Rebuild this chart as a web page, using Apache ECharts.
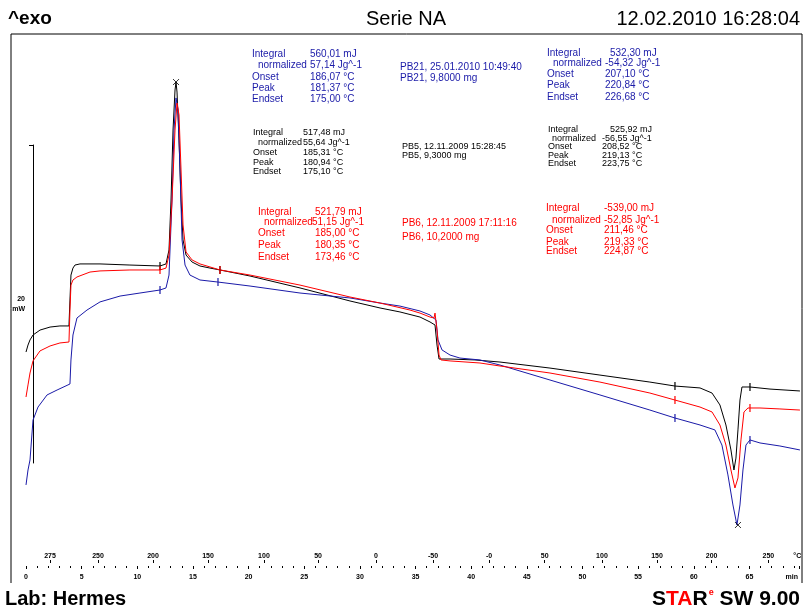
<!DOCTYPE html>
<html>
<head>
<meta charset="utf-8">
<script src="https://cdn.jsdelivr.net/npm/echarts@6/dist/echarts.min.js"></script>
<style>
  html, body { margin: 0; padding: 0; background: #fff; }
  #chart { width: 805px; height: 610px; }
</style>
</head>
<body>
<div id="chart"></div>
<script>
// DSC heat-flow curves: time [min] against heat flow [mW], exo up.
const pb5Time = [0, 0.18, 0.36, 0.63, 1.26, 2.16, 3.05, 3.86, 3.95, 4.04, 4.22, 4.40, 4.85, 6.65, 9.34, 12.04, 12.58, 12.85, 13.03, 13.21, 13.39, 13.48, 13.57, 13.75, 13.93, 14.11, 14.38, 14.92, 15.63, 16.53, 17.43, 20.13, 24.62, 29.11, 31.81, 33.60, 35.40, 36.30, 36.75, 36.93, 37.11, 38.10, 40.34, 42.59, 47.08, 51.57, 56.06, 58.31, 60.56, 61.64, 62.35, 62.89, 63.34, 63.61, 63.79, 63.97, 64.15, 64.33, 65.05, 66.85, 69.54];
const pb5Flow = [6.98, 7.42, 7.74, 8.05, 8.36, 8.55, 8.62, 8.62, 10.25, 11.82, 12.26, 12.45, 12.52, 12.52, 12.45, 12.39, 12.52, 13.40, 16.54, 20.94, 23.46, 23.96, 23.33, 20.31, 16.54, 14.03, 13.08, 12.64, 12.39, 12.26, 12.14, 11.76, 11.01, 10.19, 9.75, 9.50, 9.18, 8.87, 8.68, 7.42, 6.54, 6.54, 6.48, 6.35, 5.97, 5.53, 5.09, 4.84, 4.72, 4.40, 3.65, 2.39, 0.82, -0.44, 0.31, 2.08, 3.96, 4.78, 4.78, 4.65, 4.53];

const pb6Time = [0, 0.18, 0.36, 0.63, 1.26, 2.16, 3.05, 3.86, 3.95, 4.04, 4.22, 4.58, 5.75, 6.65, 9.34, 12.04, 12.58, 12.85, 13.12, 13.39, 13.57, 13.75, 13.93, 14.11, 14.38, 14.92, 15.63, 16.53, 17.43, 20.13, 24.62, 29.11, 31.81, 34.50, 35.40, 36.30, 36.66, 36.75, 36.93, 37.11, 37.29, 38.10, 40.79, 42.59, 47.08, 51.57, 56.06, 58.31, 60.56, 61.64, 62.35, 62.89, 63.34, 63.70, 63.97, 64.24, 64.51, 64.87, 65.95, 67.74, 69.54];
const pb6Flow = [4.15, 4.91, 5.66, 6.42, 7.05, 7.36, 7.55, 7.61, 9.62, 11.19, 11.51, 11.70, 12.01, 12.08, 12.14, 12.14, 12.26, 13.08, 16.54, 20.94, 22.64, 21.89, 18.43, 14.97, 13.27, 12.77, 12.52, 12.33, 12.14, 11.82, 11.19, 10.44, 10.06, 9.62, 9.43, 9.18, 9.12, 9.43, 8.36, 6.79, 6.48, 6.42, 6.29, 6.10, 5.66, 5.09, 4.40, 3.96, 3.52, 3.21, 2.39, 1.13, -0.44, -1.57, -0.94, 1.45, 3.21, 3.46, 3.46, 3.40, 3.33];

const pb21Time = [0, 0.18, 0.36, 0.63, 1.08, 1.89, 2.79, 3.77, 3.95, 4.04, 4.22, 4.58, 5.48, 6.65, 8.45, 10.24, 12.04, 12.58, 12.85, 13.12, 13.30, 13.48, 13.66, 13.84, 14.02, 14.29, 14.73, 15.63, 17.25, 20.13, 24.62, 29.11, 31.81, 33.60, 35.40, 36.30, 36.84, 37.02, 37.38, 38.10, 38.99, 40.79, 42.59, 47.08, 51.57, 56.06, 58.31, 60.56, 61.90, 62.53, 63.07, 63.52, 63.88, 64.15, 64.42, 64.69, 65.05, 65.95, 67.74, 69.54];
const pb21Flow = [-1.38, -0.44, 0.19, 2.70, 3.52, 4.28, 4.59, 4.91, 4.97, 6.48, 8.05, 9.12, 9.62, 10.13, 10.50, 10.69, 10.88, 11.01, 11.82, 16.54, 20.94, 22.96, 22.20, 18.43, 14.03, 12.45, 11.82, 11.51, 11.38, 11.13, 10.69, 10.38, 10.06, 9.87, 9.56, 9.31, 8.99, 7.74, 7.11, 6.79, 6.60, 6.48, 6.16, 5.22, 4.28, 3.33, 2.83, 2.39, 2.08, 1.13, -0.75, -2.64, -3.90, -2.64, -0.44, 1.13, 1.45, 1.26, 1.07, 0.82];

// Integration limits [time, flow] and peak markers
const pb5Limits = [[12.04, 12.39], [17.43, 12.14], [58.31, 4.84], [65.05, 4.78]];
const pb6Limits = [[12.04, 12.14], [17.43, 12.14], [58.31, 3.96], [65.05, 3.46]];
const pb21Limits = [[12.04, 10.88], [17.25, 11.38], [58.31, 2.83], [65.05, 1.45]];
const peakMarks = [[13.48, 23.96], [63.97, -3.90]];

// Ruler: time ticks below, programme temperature labels above
const timeLabelPos = [0, 5, 10, 15, 20, 25, 30, 35, 40, 45, 50, 55, 60, 65, 68.8];
const timeLabels = ['0', '5', '10', '15', '20', '25', '30', '35', '40', '45', '50', '55', '60', '65', 'min'];
const tempLabelPos = [2.16, 6.47, 11.41, 16.35, 21.38, 26.24, 31.45, 36.57, 41.6, 46.6, 51.75, 56.7, 61.6, 66.7, 69.3];
const tempLabels = ['275', '250', '200', '150', '100', '50', '0', '-50', '-0', '50', '100', '150', '200', '250', '°C'];

// Evaluation results
const resultNames = ['Integral', 'normalized', 'Onset', 'Peak', 'Endset'];
const pb21Cryst = ['560,01 mJ', '57,14 Jg^-1', '186,07 °C', '181,37 °C', '175,00 °C'];
const pb21Melt = ['532,30 mJ', '-54,32 Jg^-1', '207,10 °C', '220,84 °C', '226,68 °C'];
const pb5Cryst = ['517,48 mJ', '55,64 Jg^-1', '185,31 °C', '180,94 °C', '175,10 °C'];
const pb5Melt = ['525,92 mJ', '-56,55 Jg^-1', '208,52 °C', '219,13 °C', '223,75 °C'];
const pb6Cryst = ['521,79 mJ', '51,15 Jg^-1', '185,00 °C', '180,35 °C', '173,46 °C'];
const pb6Melt = ['-539,00 mJ', '-52,85 Jg^-1', '211,46 °C', '219,33 °C', '224,87 °C'];
const pb21Info = ['PB21, 25.01.2010 10:49:40', 'PB21, 9,8000 mg'];
const pb5Info = ['PB5, 12.11.2009 15:28:45', 'PB5, 9,3000 mg'];
const pb6Info = ['PB6, 12.11.2009 17:11:16', 'PB6, 10,2000 mg'];

const BLACK = '#000000';
const RED = '#ff0000';
const BLUE = '#1a1aa8';
const FONT = '"Liberation Sans", Arial, sans-serif';

function pairs(t, f) { return t.map((v, i) => [v, f[i]]); }

function resultBlock(values, color, size, nameX, indent, valueX, rows) {
  const els = [];
  const font = size + 'px ' + FONT;
  resultNames.forEach((n, i) => {
    els.push({ type: 'text', x: nameX + (i === 1 ? indent : 0), y: rows[i], z: 10,
      style: { text: n, fill: color, font: font, verticalAlign: 'middle' } });
    els.push({ type: 'text', x: valueX[i], y: rows[i], z: 10,
      style: { text: values[i], fill: color, font: font, verticalAlign: 'middle' } });
  });
  return els;
}
function infoBlock(lines, color, size, x, rows) {
  return lines.map((s, i) => ({ type: 'text', x: x, y: rows[i], z: 10,
    style: { text: s, fill: color, font: size + 'px ' + FONT, verticalAlign: 'middle' } }));
}

const graphics = [
  { type: 'polyline', shape: { points: [[11, 583], [11, 34], [802, 34], [802, 583]] },
    style: { stroke: '#000', lineWidth: 1, fill: null } },
  { type: 'text', x: 8, y: 19, style: { text: '^exo', fill: '#000', font: 'bold 19px ' + FONT, verticalAlign: 'middle' } },
  { type: 'text', x: 406, y: 19, style: { text: 'Serie NA', fill: '#000', font: '20px ' + FONT, align: 'center', verticalAlign: 'middle' } },
  { type: 'text', x: 800, y: 19, style: { text: '12.02.2010 16:28:04', fill: '#000', font: '20px ' + FONT, align: 'right', verticalAlign: 'middle' } },
  { type: 'text', x: 5, y: 599, style: { text: 'Lab: Hermes', fill: '#000', font: 'bold 20px ' + FONT, verticalAlign: 'middle' } },
  { type: 'text', x: 800, y: 599, style: {
      text: '{k|S}{r|TA}{k|R}{s|e}{k| SW 9.00}', align: 'right', verticalAlign: 'middle',
      rich: {
        k: { fill: '#000', font: 'bold 21px ' + FONT },
        r: { fill: '#ff0000', font: 'bold 21px ' + FONT },
        s: { fill: '#ff0000', font: 'bold 9px ' + FONT, verticalAlign: 'top', padding: [0, 0, 10, 1] }
      } } }
]
  .concat(resultBlock(pb21Cryst, BLUE, 10, 252, 6, [310, 310, 310, 310, 310], [54, 65, 77, 88, 99]))
  .concat(infoBlock(pb21Info, BLUE, 10, 400, [67, 78]))
  .concat(resultBlock(pb21Melt, BLUE, 10, 547, 6, [610, 605, 605, 605, 605], [53, 63, 74, 85, 97]))
  .concat(resultBlock(pb5Cryst, BLACK, 9, 253, 5, [303, 303, 303, 303, 303], [133, 143, 153, 163, 172]))
  .concat(infoBlock(pb5Info, BLACK, 9, 402, [147, 156]))
  .concat(resultBlock(pb5Melt, BLACK, 9, 548, 4, [610, 602, 602, 602, 602], [130, 139, 147, 156, 164]))
  .concat(resultBlock(pb6Cryst, RED, 10, 258, 6, [315, 312, 315, 315, 315], [212, 222, 233, 245, 257]))
  .concat(infoBlock(pb6Info, RED, 10, 402, [223, 237]))
  .concat(resultBlock(pb6Melt, RED, 10, 546, 6, [604, 604, 604, 604, 604], [208, 220, 230, 242, 251]));

function limitSeries(name, data, color) {
  return { name: name, type: 'scatter', xAxisIndex: 0, yAxisIndex: 0, data: data,
    symbol: 'rect', symbolSize: [1.5, 8], itemStyle: { color: color }, silent: true, z: 4 };
}

const pxPerMW = 15.9;
const chart = echarts.init(document.getElementById('chart'), null, { renderer: 'canvas' });
chart.setOption({
  animation: false,
  backgroundColor: '#fff',
  grid: [
    { left: 26, right: 5.5, top: 463 - 27 * pxPerMW, height: 32 * pxPerMW },
    { left: 26, right: 5.5, top: 563, height: 3 },
    { left: 33, top: 145, width: 1, height: 20 * pxPerMW }
  ],
  xAxis: [
    { gridIndex: 0, type: 'value', min: 0, max: 69.5, show: false },
    { gridIndex: 1, type: 'value', min: 0, max: 69.5, position: 'bottom', interval: 5,
      axisLine: { show: false }, splitLine: { show: false },
      axisTick: { show: true, length: 3, lineStyle: { color: '#000' } },
      minorTick: { show: true, splitNumber: 5, length: 2, lineStyle: { color: '#000' } },
      axisLabel: { customValues: timeLabelPos, margin: 8, fontSize: 7, fontWeight: 'bold', color: '#000', fontFamily: FONT,
        formatter: v => timeLabels[timeLabelPos.indexOf(v)] } },
    { gridIndex: 1, type: 'value', min: 0, max: 69.5, position: 'top',
      axisLine: { show: false }, splitLine: { show: false },
      axisTick: { show: true, length: 3, customValues: tempLabelPos.slice(0, -1), lineStyle: { color: '#000' } },
      axisLabel: { customValues: tempLabelPos, margin: 3, fontSize: 7, fontWeight: 'bold', color: '#000', fontFamily: FONT,
        formatter: v => tempLabels[tempLabelPos.indexOf(v)] } },
    { gridIndex: 2, type: 'value', min: 0, max: 1, show: false }
  ],
  yAxis: [
    { gridIndex: 0, type: 'value', min: -5, max: 27, show: false },
    { gridIndex: 1, type: 'value', show: false },
    { gridIndex: 2, type: 'value', min: 0, max: 20, position: 'left',
      axisLine: { show: true, lineStyle: { color: '#000', width: 1 } },
      axisTick: { show: true, length: 4, customValues: [20], lineStyle: { color: '#000' } },
      axisLabel: { show: false }, splitLine: { show: false },
      name: '20\nmW', nameLocation: 'middle', nameRotate: 0, nameGap: 8,
      nameTextStyle: { fontSize: 7, fontWeight: 'bold', color: '#000', fontFamily: FONT, align: 'right', lineHeight: 10 } }
  ],
  series: [
    { name: 'PB5', type: 'line', xAxisIndex: 0, yAxisIndex: 0, data: pairs(pb5Time, pb5Flow),
      showSymbol: false, lineStyle: { color: BLACK, width: 1 }, itemStyle: { color: BLACK } },
    { name: 'PB21', type: 'line', xAxisIndex: 0, yAxisIndex: 0, data: pairs(pb21Time, pb21Flow),
      showSymbol: false, lineStyle: { color: BLUE, width: 1 }, itemStyle: { color: BLUE } },
    { name: 'PB6', type: 'line', xAxisIndex: 0, yAxisIndex: 0, data: pairs(pb6Time, pb6Flow),
      showSymbol: false, lineStyle: { color: RED, width: 1 }, itemStyle: { color: RED } },
    limitSeries('PB5 limits', pb5Limits, BLACK),
    limitSeries('PB21 limits', pb21Limits, BLUE),
    limitSeries('PB6 limits', pb6Limits, RED),
    { name: 'Peaks', type: 'scatter', xAxisIndex: 0, yAxisIndex: 0, data: peakMarks,
      symbol: 'path://M0,0L10,10M10,0L0,10', symbolSize: 6, silent: true, z: 4,
      itemStyle: { color: 'none', borderColor: '#000', borderWidth: 1 } }
  ],
  graphic: graphics
});
</script>
</body>
</html>
